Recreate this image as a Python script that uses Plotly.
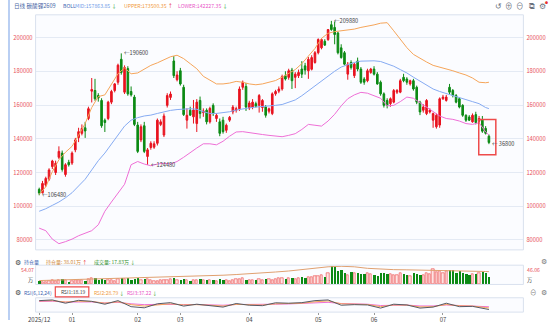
import plotly.graph_objects as go

# ---------------- data ----------------
opens = [110000,108000,112500,116000,123500,120000,129000,131500,118800,126000,
         125600,133400,140700,143200,146500,152000,168200,168600,165600,162700,
         151000,152000,161700,168600,173500,187100,167600,181600,168000,164700,
         148100,139300,147700,129500,134800,135000,137300,148500,142200,159800,
         164500,186100,175000,180300,170500,151000,156900,153000,149000,
         162700,155500,156900,150000,159800,152000,150000,151000,145000,151000,
         155900,156900,157800,170500,171000,158200,158800,160800,159800,158500,
         158800,156300,154900,166600,168200,169500,177400,176400,180700,176400,
         177400,181300,183200,180300,181200,185200,191000,193900,197800,198800,
         207600,206000,202700,193900,191000,178300,
         185200,177400,186100,181300,175400,174400,179300,181300,178300,173500,
         166600,162700,160800,161700,167600,167600,176400,175400,172500,174400,
         170500,161700,156900,154900,155900,151000,147100,148100,163700,162700,
         170500,168600,165600,163700,159800,153900,152900,150000,154300,150400,
         151000,146100,141500]
highs = [111000,115000,117500,122500,127500,127000,135500,133000,125500,127500,
         132500,140500,146500,148500,150000,159000,176000,175500,167000,164000,
         152000,162500,169000,173000,184500,190600,183500,183000,171000,166000,
         150000,148500,150000,134500,138500,138500,152000,151500,155000,167000,
         168000,189000,180000,182000,172000,158000,159000,163000,163500,
         165000,158000,158000,159000,161000,155000,152000,153000,149000,153500,
         160000,159000,171000,174500,173000,162500,163500,162000,166500,163500,
         160000,158500,167500,169000,171000,178000,180000,181500,182000,179500,
         181000,186000,185000,188500,189500,192000,199500,199500,199000,205000,
         209880,209500,203500,196000,192000,185500,
         186500,185000,188100,182500,176500,181500,182000,183000,179500,174500,
         167500,164000,164500,169500,169500,175500,178500,176500,175000,175500,
         171500,162500,160500,163500,158000,155500,155000,164500,166000,166000,
         172500,169500,166500,164500,160500,154500,154000,155000,156000,153500,
         153500,147500,142500]
lows = [106480,107500,111500,115000,122000,118500,128000,120500,117500,123500,
        124500,132000,138000,142000,140500,151000,161500,162500,162000,146500,
        144000,151000,160500,167500,172000,178000,166500,165500,165000,147500,
        131500,138000,131500,124480,133500,134000,136000,147500,141000,158500,
        163000,176000,174000,171500,153500,146000,153500,149000,144000,
        152000,153000,148500,149000,153500,150000,141500,143000,143500,150000,
        154500,155500,156500,169000,156500,157000,157500,158500,155500,156000,
        152500,155000,154000,165500,167000,168500,174500,175000,169500,170000,
        176000,176000,178000,175500,180500,184500,190000,193000,195000,198000,
        204000,196000,190000,187500,183500,175000,
        181000,176000,180000,172500,172000,173500,178500,177500,172000,165500,
        158500,158000,159000,161000,166500,167000,173500,172000,171500,168500,
        160500,154000,155500,154000,155000,146500,146000,146500,163000,162000,
        166500,164500,161000,158000,153000,150000,150500,149500,148500,149500,
        143500,142500,136800]
closes = [107800,113500,116500,121500,126800,125500,132500,121800,124600,124600,
          131500,139300,144200,146100,144600,157800,169200,163700,164100,147700,
          149600,161700,168000,172500,183600,179300,182200,166600,166000,148500,
          132500,147100,132500,133400,137300,137000,151000,150000,153500,165600,
          166500,177400,177800,172500,154300,153900,154000,157000,161700,
          154900,156500,150000,158000,154900,153900,143200,144200,148000,152700,
          158800,157800,169500,173500,158800,161200,161700,159200,165600,162700,
          153900,157800,166600,168000,169500,176800,175400,180300,174400,178300,
          179300,178300,180700,187100,188100,191000,198800,198800,195500,204700,
          204700,201800,191000,188100,184200,184200,
          182200,184200,181300,173500,173500,180300,181300,178300,172500,166600,
          159800,159800,163700,168600,168600,174400,174400,173500,174400,169500,
          161700,155900,158800,162700,156900,154900,153900,163700,164700,164700,
          167600,165600,161700,158800,153900,151000,151000,153900,149600,152000,
          144500,143200,137800]

# volume (万手) and open interest (万)
volumes = [8,6,7,9,11,8,12,14,10,6,
           9,10,12,11,9,13,16,15,10,14,
           12,11,10,9,13,16,14,15,10,14,
           16,12,14,13,11,9,8,12,10,11,
           13,15,10,12,14,11,9,10,12,14,
           11,10,12,11,9,13,12,10,9,10,
           13,14,15,12,11,12,10,13,12,14,
           13,12,14,16,15,14,17,15,14,16,
           18,16,19,20,21,22,23,20,30,46.06,
           44,33,38,30,25,32,28,30,26,27,
           29,27,25,22,28,30,26,27,25,24,
           28,26,24,22,30,27,25,24,28,26,
           40,32,35,30,34,38,36,30,33,28,
           26,25,27,26,30,32,28,17.83]
oi_idx = list(range(0, 137, 4)) + [137]
open_interest = [11.5,12.5,13.5,14.5,15.5,16.5,17.5,18.5,19.5,20.5,
                 21.5,23,24.5,26,27.5,29.5,31.5,34,37,40,
                 44,48,52.5,54.07,52.5,48,45,44,43.5,43,
                 42.5,42,41,40,38.5,38.01]

# Bollinger bands (every 2nd session)
boll_idx = list(range(0, 137, 2)) + [137]
boll_mid = [97000,98500,100500,102500,105000,108000,112000,116000,121500,127000,
            131500,137000,142500,147500,151000,152500,153500,154000,155000,156000,
            156800,157300,157500,157800,157500,156000,155000,155000,155500,156000,
            157000,157800,158300,158800,159000,159300,159800,160300,161500,163000,
            165500,168500,171500,174500,177500,180000,182500,184000,185200,186000,
            186200,186200,185800,184500,183000,181000,179000,176500,174000,171500,
            169500,168000,166700,165500,164300,163200,162000,160800,158500,157863.85]
boll_upper = [107000,111500,120500,127500,132000,135500,142000,149000,158500,165000,
              166000,172000,178500,182000,178500,179000,181500,183500,185000,187000,
              188600,189500,187500,184500,181500,177000,174500,172500,172500,173000,
              174000,173500,172500,172000,172500,173500,174500,176500,178500,181000,
              184500,189000,193500,199500,202500,203500,204000,204500,205000,206000,
              206600,207500,208500,208800,204000,199000,194000,190000,187500,185500,
              183500,182500,181500,180300,179000,177800,176000,173500,173200,173500.35]
boll_lower = [87000,85500,80500,77800,79000,80500,82500,84000,85500,89000,
              97000,102500,107500,113000,124600,126500,125000,124000,125000,125500,
              125000,126500,129000,132000,134500,137000,137000,136400,138500,141500,
              144000,144200,143500,143200,142500,142000,141500,141200,142000,143000,
              145500,148500,148000,147500,150500,154500,159500,163700,166000,167500,
              167000,165500,164000,159500,159800,162000,164700,164000,161500,158500,
              156500,153500,152000,151500,150500,149000,148500,149500,144000,142227.35]

# RSI lines (every 4th session)
rsi_idx = list(range(0, 137, 4)) + [137]
rsi1 = [80,85,62,82,75,55,80,38,30,58,66,42,55,45,35,60,48,45,65,62,
        66,80,85,48,52,50,28,55,50,28,35,62,38,40,22,18.19]
rsi2 = [78,80,70,76,74,62,72,52,42,52,58,50,52,48,42,54,51,49,58,60,
        62,72,78,58,55,53,38,50,49,36,38,53,44,42,32,28.79]
rsi3 = [74,76,70,72,71,64,68,58,52,54,56,53,53,51,48,53,52,51,55,57,
        59,64,68,60,58,55,46,50,49,43,43,50,46,44,39,37.22]

tick_idx = [0, 10, 30, 43, 64, 85, 102, 123]
tick_text = ["2025/12", "01", "02", "03", "04", "05", "06", "07"]
price_ticks = [80000, 100000, 120000, 140000, 160000, 180000, 200000]
price_labels = [str(v) for v in price_ticks]

# ---------------- styling ----------------
W, H = 550, 324
RED = "#e8131f"
GREEN = "#0c8a14"
UPG = "#e8131f"
DNG = "#1d9a2a"
FONT = "Noto Sans CJK SC, Noto Sans, sans-serif"
GRID = "#e4eaf4"
BORDER = "#d9e1ee"

def px(x):
    return x / W

def py(y):
    return 1 - y / H

N = len(closes)
idx = list(range(N))
XR = [-1.1, 147.5]
XD = [px(28), px(523)]

fig = go.Figure()

fig.add_trace(go.Candlestick(
    x=idx, open=opens, high=highs, low=lows, close=closes,
    increasing=dict(line=dict(color=RED, width=1), fillcolor=RED),
    decreasing=dict(line=dict(color=GREEN, width=1), fillcolor=GREEN),
    whiskerwidth=0, xaxis="x", yaxis="y", showlegend=False, hoverinfo="skip"))

for ys, col in [(boll_upper, "#f5a55a"), (boll_mid, "#86abf2"), (boll_lower, "#ee6fd6")]:
    fig.add_trace(go.Scatter(x=boll_idx, y=ys, mode="lines",
                             line=dict(color=col, width=1), xaxis="x", yaxis="y",
                             showlegend=False, hoverinfo="skip"))

up_x = [i for i in idx if closes[i] >= opens[i]]
dn_x = [i for i in idx if closes[i] < opens[i]]
fig.add_trace(go.Bar(x=up_x, y=[volumes[i] for i in up_x], width=0.7,
                     marker=dict(color="#fde3e3", line=dict(color="#f06a6a", width=0.8)),
                     xaxis="x2", yaxis="y3", showlegend=False, hoverinfo="skip"))
fig.add_trace(go.Bar(x=dn_x, y=[volumes[i] for i in dn_x], width=0.7,
                     marker=dict(color=GREEN, line=dict(width=0)),
                     xaxis="x2", yaxis="y3", showlegend=False, hoverinfo="skip"))
fig.add_trace(go.Scatter(x=oi_idx, y=open_interest, mode="lines",
                         line=dict(color="#e0a070", width=1), xaxis="x2", yaxis="y4",
                         showlegend=False, hoverinfo="skip"))

for ys, col in [(rsi3, "#ee6fd6"), (rsi2, "#f5a55a"), (rsi1, "#555a66")]:
    fig.add_trace(go.Scatter(x=rsi_idx, y=ys, mode="lines", line=dict(color=col, width=1),
                             xaxis="x3", yaxis="y5", showlegend=False, hoverinfo="skip"))

main_dom = [py(253), py(15)]
vol_dom = [py(288), py(268.5)]
rsi_dom = [py(316), py(301.5)]

yr = [74118, 213467]
common_x = dict(domain=XD, range=XR, showgrid=False, zeroline=False, showline=False,
                fixedrange=True)
fig.update_layout(
    width=W, height=H, margin=dict(l=0, r=0, t=0, b=0),
    paper_bgcolor="white", plot_bgcolor="#fbfcff",
    font=dict(family=FONT, size=6, color="#333"),
    bargap=0,
    xaxis=dict(**common_x, anchor="y", showticklabels=False, rangeslider=dict(visible=False)),
    xaxis2=dict(**common_x, anchor="y3", showticklabels=False, matches="x"),
    xaxis3=dict(**common_x, anchor="y5", tickmode="array", tickvals=tick_idx,
                ticktext=tick_text, ticks="outside", ticklen=2, tickcolor="#999",
                tickfont=dict(size=6, color="#444")),
    yaxis=dict(domain=main_dom, range=yr, tickmode="array", tickvals=price_ticks,
               ticktext=price_labels,
               tickfont=dict(size=5.8, color="#e8505a"), gridcolor=GRID, gridwidth=1,
               zeroline=False, side="left", ticks="", ticklabelstandoff=2, fixedrange=True),
    yaxis2=dict(domain=main_dom, range=yr, overlaying="y", side="right", anchor="x",
                tickmode="array", tickvals=price_ticks, ticktext=price_labels,
                showgrid=False, zeroline=False,
                tickfont=dict(size=5.8, color="#e8505a"), ticks="", ticklabelstandoff=2,
                fixedrange=True),
    yaxis3=dict(domain=vol_dom, range=[0, max(volumes) * 1.08], showgrid=False,
                zeroline=False, showticklabels=False, fixedrange=True),
    yaxis4=dict(domain=vol_dom, range=[0, max(open_interest) * 1.06], overlaying="y3",
                showgrid=False, zeroline=False, showticklabels=False, fixedrange=True),
    yaxis5=dict(domain=rsi_dom, range=[0, 100], showgrid=False, zeroline=False,
                showticklabels=False, fixedrange=True),
)
fig.add_trace(go.Scatter(x=[None], y=[None], xaxis="x", yaxis="y2", showlegend=False))

shapes = []
for dom in (main_dom, vol_dom, rsi_dom):
    shapes.append(dict(type="rect", xref="paper", yref="paper", x0=XD[0], x1=XD[1],
                       y0=dom[0], y1=dom[1], line=dict(color=BORDER, width=1),
                       fillcolor="rgba(0,0,0,0)", layer="above"))
# left accent line
shapes.append(dict(type="line", xref="paper", yref="paper", x0=px(1), x1=px(1), y0=0, y1=1,
                   line=dict(color="#b9cff3", width=2)))
# highlight box around the last sessions
last3 = list(range(N - 3, N))
shapes.append(dict(type="rect", xref="x", yref="y", x0=last3[0] - 1.1, x1=last3[-1] + 2.1,
                   y0=min(lows[i] for i in last3) - 6300, y1=max(opens[i] for i in last3) + 400,
                   line=dict(color="#ee4b4b", width=1.5), fillcolor="rgba(0,0,0,0)"))
# RSI1 box
shapes.append(dict(type="rect", xref="paper", yref="paper", x0=px(48), x1=px(82),
                   y0=py(300.5), y1=py(290.5), line=dict(color="#ee4b4b", width=1.2),
                   fillcolor="white"))
fig.update_layout(shapes=shapes)

ann = []

def txt(x, y, s, color, size=5.2, anchor="left"):
    ann.append(dict(x=px(x), y=py(y), xref="paper", yref="paper", text=s, showarrow=False,
                    xanchor=anchor, yanchor="middle", borderpad=0,
                    font=dict(size=size, color=color, family=FONT)))

def arrow(s, color):
    return f"<span style='color:{color}'> {s}</span>"

# top legend
txt(5, 6, "日线 碳酸锂2609", "#4b68a6", 5.6)
txt(55, 6, "BOLL", "#3d64b0")
txt(67, 6, "MID:157863.85" + arrow("↓", DNG), "#6f9be8")
txt(117, 6, "UPPER:173500.35" + arrow("↑", UPG), "#f09a3e")
txt(171, 6, "LOWER:142227.35" + arrow("↓", DNG), "#e856c8")
for xx, s in [(497.7, "↺"), (508.7, "⊕"), (520, "⊖"), (531.3, "⧉"), (542.7, "⚙")]:
    txt(xx, 6, s, "#6b7280", 7.5, "center")
txt(546.5, 3, "●", "#e83030", 3, "center")

# volume legend
txt(10, 265, "⚙", "#444", 6.5, "center")
txt(15, 265, "持仓量", "#3d64b0", 5)
txt(38, 265, "持仓量: 38.01万" + arrow("↑", UPG), "#d08a3c", 5)
txt(86, 265, "成交量: 17.83万" + arrow("↓", DNG), "#2f8f2f", 5)
txt(27, 272.7, "54.07", "#e8505a", 5.2, "right")
txt(26, 283.3, "万", "#333", 5.2, "right")
txt(526, 272.7, "46.06", "#e8505a", 5.2)
txt(526, 283.3, "万", "#333", 5.2)
txt(544.3, 264, "⚙", "#777", 6.5, "center")

# RSI legend
txt(10, 296, "⚙", "#444", 6.5, "center")
txt(15, 296, "RSI(6,12,24)", "#3d64b0", 5)
txt(52.5, 295.5, "RSI1:18.19", "#444", 5)
txt(86, 296, "RSI2:28.79" + arrow("↓", DNG), "#f09a3e", 5)
txt(120, 296, "RSI3:37.22" + arrow("↓", DNG), "#e856c8", 5)
txt(533.3, 295.7, "⊖", "#777", 6.5, "center")
txt(544.3, 295.7, "⚙", "#777", 6.5, "center")

# extreme labels, positioned from the data
def mark(i, val, label):
    ann.append(dict(x=i, y=val, xref="x", yref="y", text="←" + label, showarrow=False,
                    xanchor="left", yanchor="middle", xshift=2, borderpad=0,
                    font=dict(size=5.6, color="#444", family=FONT)))

i_min = lows.index(min(lows[:20]))
mark(i_min, lows[i_min], f"{lows[i_min]}")
i_h1 = highs.index(max(highs[:40]))
mark(i_h1, highs[i_h1], f"{highs[i_h1]}")
i_l1 = lows.index(min(lows[25:45]))
mark(i_l1, lows[i_l1], f"{lows[i_l1]}")
i_max = highs.index(max(highs))
mark(i_max, highs[i_max], f"{highs[i_max]}")
mark(N - 1, lows[-1], f" {str(lows[-1])[1:]}")

fig.update_layout(annotations=ann)

fig.write_html("out.html")
